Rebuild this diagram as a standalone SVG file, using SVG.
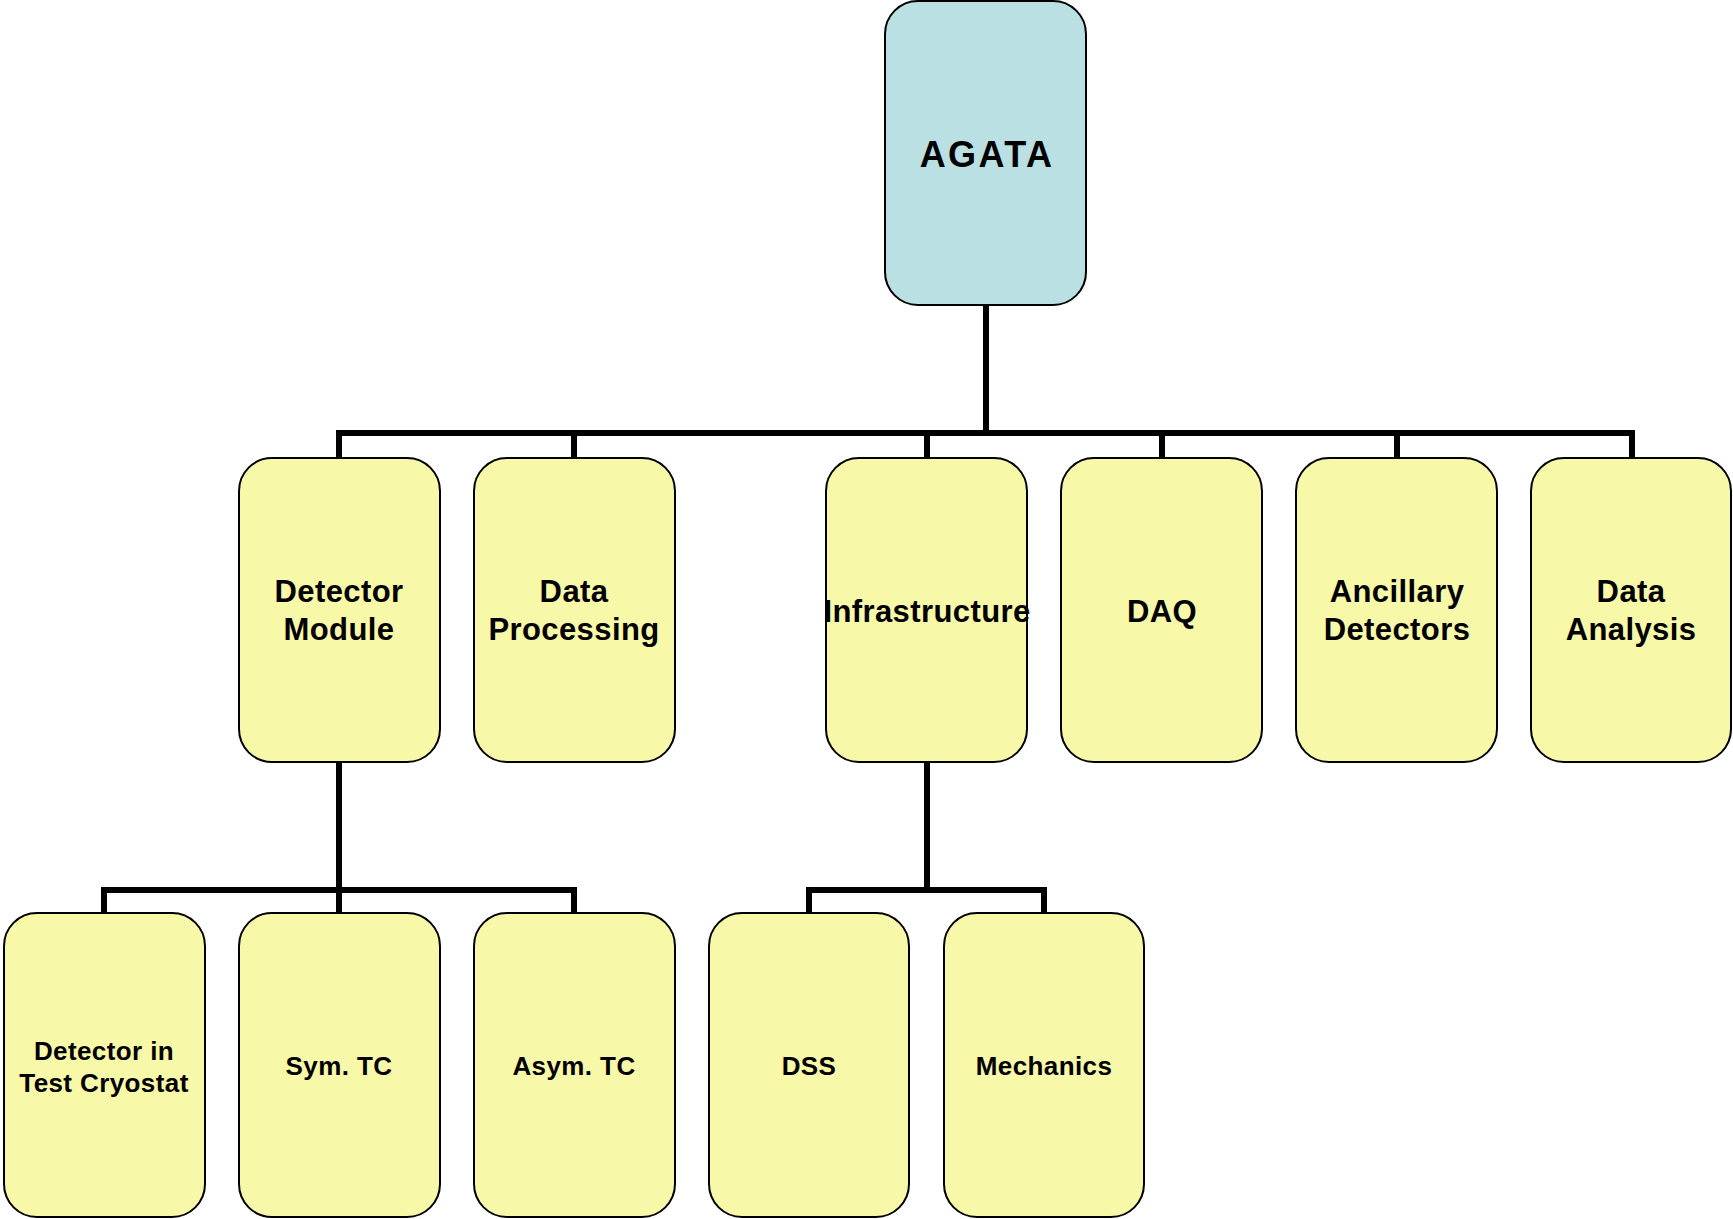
<svg xmlns="http://www.w3.org/2000/svg" width="1733" height="1219" viewBox="0 0 1733 1219">
<style>
.node{fill:#F7F8A8;stroke:#000;stroke-width:2}
.root{fill:#BAE0E3;stroke:#000;stroke-width:2}
.conn{fill:none;stroke:#000;stroke-width:6;stroke-linejoin:miter;stroke-linecap:butt}
text{font-family:"Liberation Sans",Arial,sans-serif;font-weight:bold;fill:#000;text-anchor:middle}
.t1{font-size:31px;letter-spacing:0.4px}
.t2{font-size:26px;letter-spacing:0.4px}
.t0{font-size:36px;letter-spacing:2.4px}
</style>
<rect width="1733" height="1219" fill="#fff"/>
<g id="connectors">
<path class="conn" d="M986 305 V433"/>
<path class="conn" d="M339 458 V433 H1632 V458"/>
<path class="conn" d="M574 433 V458"/>
<path class="conn" d="M927 433 V458"/>
<path class="conn" d="M1162 433 V458"/>
<path class="conn" d="M1397 433 V458"/>
<path class="conn" d="M339 762 V890"/>
<path class="conn" d="M104 913 V890 H574 V913"/>
<path class="conn" d="M339 890 V913"/>
<path class="conn" d="M927 762 V890"/>
<path class="conn" d="M809 913 V890 H1044 V913"/>
</g>
<g id="agata">
<rect class="root" x="885" y="1" width="201" height="304" rx="33"/>
<text class="t0" x="987" y="167">AGATA</text>
</g>
<g id="detector-module">
<rect class="node" x="239" y="458" width="201" height="304" rx="33"/>
<text class="t1" x="339" y="602">Detector</text>
<text class="t1" x="339" y="640">Module</text>
</g>
<g id="data-processing">
<rect class="node" x="474" y="458" width="201" height="304" rx="33"/>
<text class="t1" x="574" y="602">Data</text>
<text class="t1" x="574" y="640">Processing</text>
</g>
<g id="infrastructure">
<rect class="node" x="826" y="458" width="201" height="304" rx="33"/>
<text class="t1" x="927" y="622">Infrastructure</text>
</g>
<g id="daq">
<rect class="node" x="1061" y="458" width="201" height="304" rx="33"/>
<text class="t1" x="1162" y="622">DAQ</text>
</g>
<g id="ancillary-detectors">
<rect class="node" x="1296" y="458" width="201" height="304" rx="33"/>
<text class="t1" x="1397" y="602">Ancillary</text>
<text class="t1" x="1397" y="640">Detectors</text>
</g>
<g id="data-analysis">
<rect class="node" x="1531" y="458" width="200" height="304" rx="33"/>
<text class="t1" x="1631" y="602">Data</text>
<text class="t1" x="1631" y="640">Analysis</text>
</g>
<g id="detector-in-test-cryostat">
<rect class="node" x="4" y="913" width="201" height="304" rx="33"/>
<text class="t2" x="104" y="1060">Detector in</text>
<text class="t2" x="104" y="1092">Test Cryostat</text>
</g>
<g id="sym-tc">
<rect class="node" x="239" y="913" width="201" height="304" rx="33"/>
<text class="t2" x="339" y="1075">Sym. TC</text>
</g>
<g id="asym-tc">
<rect class="node" x="474" y="913" width="201" height="304" rx="33"/>
<text class="t2" x="574" y="1075">Asym. TC</text>
</g>
<g id="dss">
<rect class="node" x="709" y="913" width="200" height="304" rx="33"/>
<text class="t2" x="809" y="1075">DSS</text>
</g>
<g id="mechanics">
<rect class="node" x="944" y="913" width="200" height="304" rx="33"/>
<text class="t2" x="1044" y="1075">Mechanics</text>
</g>
</svg>
